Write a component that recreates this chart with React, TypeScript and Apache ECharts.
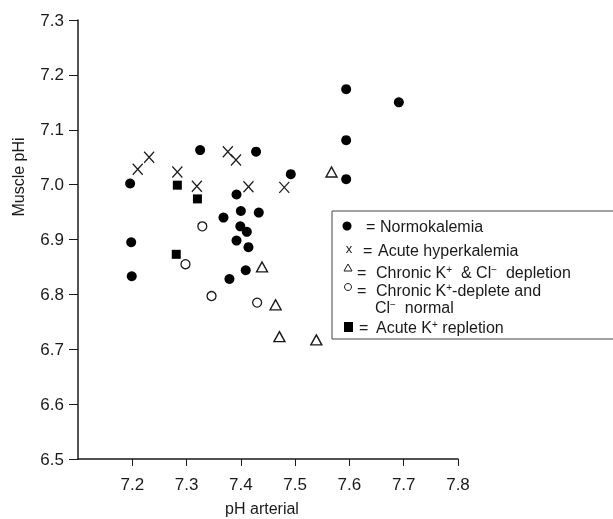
import React, { useEffect, useRef } from "react";
import * as echarts from "echarts";

// pH arterial (x) vs muscle pHi (y)
const normokalemia: [number, number][] = [
  [7.196, 7.002], [7.198, 6.895], [7.199, 6.833], [7.325, 7.063], [7.428, 7.06],
  [7.392, 6.982], [7.4, 6.952], [7.433, 6.949], [7.368, 6.94], [7.399, 6.924],
  [7.411, 6.914], [7.392, 6.898], [7.414, 6.886], [7.409, 6.844], [7.379, 6.828],
  [7.492, 7.019], [7.594, 7.174], [7.594, 7.081], [7.594, 7.01], [7.691, 7.15],
];
const acuteHyperkalemia: [number, number][] = [
  [7.21, 7.028], [7.231, 7.05], [7.283, 7.023], [7.319, 6.997],
  [7.376, 7.06], [7.391, 7.045], [7.414, 6.996], [7.48, 6.995],
];
const chronicKClDepletion: [number, number][] = [
  [7.439, 6.85], [7.464, 6.781], [7.471, 6.723], [7.539, 6.717], [7.567, 7.023],
];
const chronicKDepleteClNormal: [number, number][] = [
  [7.329, 6.924], [7.298, 6.855], [7.346, 6.797], [7.43, 6.785],
];
const acuteKRepletion: [number, number][] = [
  [7.283, 6.999], [7.32, 6.974], [7.281, 6.873],
];
const xTicks = [7.2, 7.3, 7.4, 7.5, 7.6, 7.7, 7.8];

const INK = "#1a1a1a";
const FONT = "Liberation Sans, Arial, sans-serif";

export default function App() {
  const ref = useRef<HTMLDivElement>(null);
  useEffect(() => {
    if (!ref.current) return;
    const chart = echarts.init(ref.current, undefined, { renderer: "svg" });
    const sup = { fontSize: 10, verticalAlign: "top" as const, lineHeight: 15, fontFamily: FONT, fill: INK };
    const base = { fontSize: 16, lineHeight: 15, fontFamily: FONT, fill: INK };
    const legendText = (x: number, y: number, text: string) => ({
      type: "text",
      x,
      y,
      style: { text, fill: INK, font: `16px ${FONT}`, verticalAlign: "middle", rich: { a: base, s: sup } },
    });
    const eq = (x: number, y: number) => ({
      type: "text",
      x,
      y,
      style: { text: "=", fill: INK, font: `16px ${FONT}`, verticalAlign: "middle" },
    });
    chart.setOption({
      animation: false,
      grid: { left: 78, right: 155, top: 20, bottom: 60 },
      xAxis: {
        type: "value",
        min: 7.1,
        max: 7.8,
        interval: 0.1,
        splitLine: { show: false },
        axisLine: { onZero: false, lineStyle: { color: INK, width: 1.5 } },
        axisTick: { show: true, length: 7, customValues: xTicks, lineStyle: { color: INK } },
        axisLabel: {
          customValues: xTicks,
          margin: 17,
          color: INK,
          fontSize: 17,
          fontFamily: FONT,
          formatter: (v: number) => v.toFixed(1),
        },
      },
      yAxis: {
        type: "value",
        min: 6.5,
        max: 7.3,
        interval: 0.1,
        splitLine: { show: false },
        axisLine: { show: true, onZero: false, lineStyle: { color: INK, width: 1.5 } },
        axisTick: { show: true, length: 9, lineStyle: { color: INK } },
        axisLabel: {
          margin: 14,
          color: INK,
          fontSize: 17,
          fontFamily: FONT,
          formatter: (v: number) => v.toFixed(1),
        },
      },
      series: [
        {
          name: "Normokalemia",
          type: "scatter",
          data: normokalemia,
          symbol: "circle",
          symbolSize: 10,
          itemStyle: { color: "#000", opacity: 1 },
        },
        {
          name: "Acute hyperkalemia",
          type: "scatter",
          data: acuteHyperkalemia,
          symbol: "path://M0,0L10,11M10,0L0,11",
          symbolSize: [10, 11],
          itemStyle: { color: "none", borderColor: INK, borderWidth: 1.3, opacity: 1 },
        },
        {
          name: "Chronic K+ & Cl- depletion",
          type: "scatter",
          data: chronicKClDepletion,
          symbol: "triangle",
          symbolSize: [11, 10],
          itemStyle: { color: "#fff", borderColor: INK, borderWidth: 1.4, opacity: 1 },
        },
        {
          name: "Chronic K+-deplete and Cl- normal",
          type: "scatter",
          data: chronicKDepleteClNormal,
          symbol: "circle",
          symbolSize: 9,
          itemStyle: { color: "#fff", borderColor: INK, borderWidth: 1.3, opacity: 1 },
        },
        {
          name: "Acute K+ repletion",
          type: "scatter",
          data: acuteKRepletion,
          symbol: "rect",
          symbolSize: 9,
          itemStyle: { color: "#000", opacity: 1 },
        },
      ],
      graphic: [
        {
          type: "text",
          x: 18,
          y: 177,
          rotation: Math.PI / 2,
          style: { text: "Muscle pHi", fill: INK, font: `16px ${FONT}`, align: "center", verticalAlign: "middle" },
        },
        {
          type: "text",
          x: 262,
          y: 508,
          style: { text: "pH arterial", fill: INK, font: `16px ${FONT}`, align: "center", verticalAlign: "middle" },
        },
        {
          type: "polyline",
          shape: { points: [[613, 211], [332, 211], [332, 339], [613, 339]] },
          style: { stroke: "#444", lineWidth: 1, fill: "none" },
        },
        { type: "circle", shape: { cx: 347, cy: 226, r: 4.5 }, style: { fill: "#000" } },
        eq(366, 226),
        legendText(380, 226, "{a|Normokalemia}"),
        {
          type: "text",
          x: 349,
          y: 248,
          style: { text: "x", fill: INK, font: `13px ${FONT}`, align: "center", verticalAlign: "middle" },
        },
        eq(363, 250),
        legendText(378, 250, "{a|Acute hyperkalemia}"),
        {
          type: "polygon",
          shape: { points: [[348, 264], [352, 271], [344, 271]] },
          style: { fill: "#fff", stroke: INK, lineWidth: 1 },
        },
        eq(357, 272),
        legendText(376, 272, "{a|Chronic K}{s|+}{a|  & Cl}{s|−}{a|  depletion}"),
        { type: "circle", shape: { cx: 348, cy: 287, r: 3.5 }, style: { fill: "#fff", stroke: INK, lineWidth: 1 } },
        eq(357, 290),
        legendText(376, 290, "{a|Chronic K}{s|+}{a|-deplete and}"),
        legendText(375, 307, "{a|Cl}{s|−}{a|  normal}"),
        { type: "rect", shape: { x: 344, y: 322, width: 9, height: 10 }, style: { fill: "#000" } },
        eq(359, 327),
        legendText(376, 327, "{a|Acute K}{s|+}{a| repletion}"),
      ],
    });
    return () => chart.dispose();
  }, []);
  return <div ref={ref} style={{ position: "fixed", left: 0, top: 0, width: 613, height: 519 }} />;
}
